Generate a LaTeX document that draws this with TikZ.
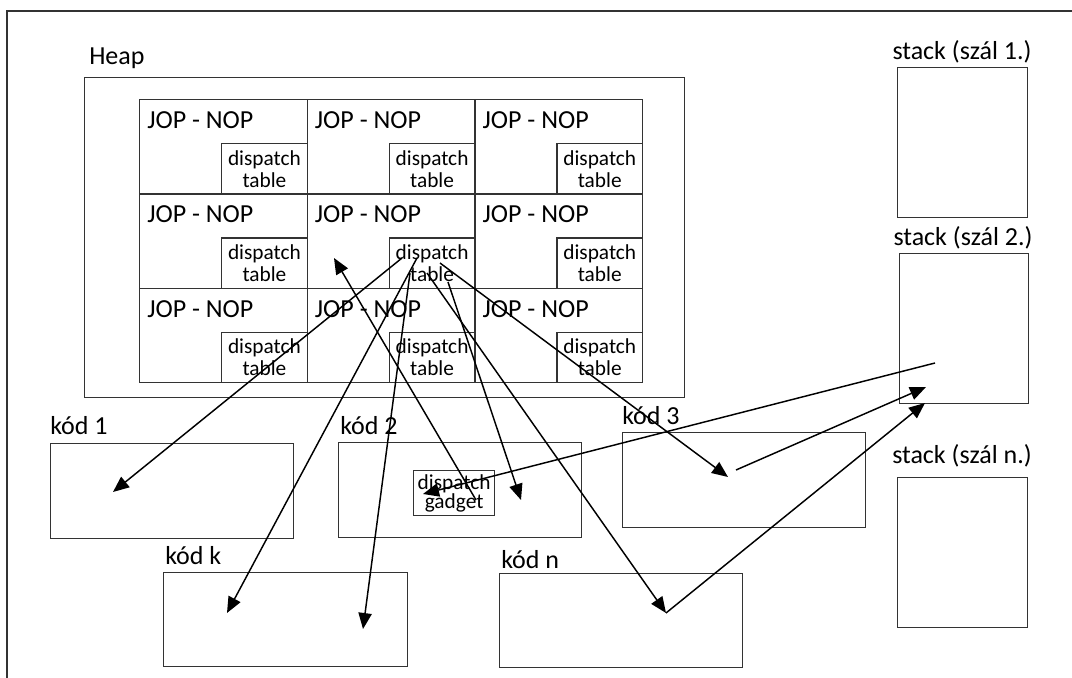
\documentclass[tikz,border=0pt]{standalone}
\usepackage{fontspec}
\setmainfont{Carlito}
\usetikzlibrary{arrows.meta}
\begin{document}
\begin{tikzpicture}[x=0.75pt,y=-0.75pt,
  rbox/.style 2 args={draw=black!80, line width=0.9pt, inner sep=0pt, anchor=north west,
    minimum width=#1*0.75pt, minimum height=#2*0.75pt},
  big/.style={font=\fontsize{19.5}{23}\selectfont, inner sep=0pt},
  small/.style={font=\fontsize{16}{16.5}\selectfont, align=center},
  arr/.style={line width=1.1pt, -{Triangle[length=12pt,width=10pt]}},
  plainline/.style={line width=1.1pt}]
\useasboundingbox (0,0) rectangle (1072,678);
\fill[white] (0,0) rectangle (1072,678);
% outer frame (cut off at right and bottom)
\draw[black!80, line width=0.9pt] (1072,11) -- (7,11) -- (7,678);

% heap
\node[big, anchor=base west] (heapl) at (89,64) {Heap};
\node[rbox={600}{320}] (heap) at (84,77) {};
\foreach \i in {0,1,2}{\foreach \j in {0,1,2}{
  \pgfmathsetmacro\cx{139+167.67*\i}
  \pgfmathsetmacro\cy{99+94.33*\j}
  \node[rbox={167.67}{94.33}] (c\i\j) at (\cx,\cy) {};
  \node[big, anchor=base west] (l\i\j) at (\cx+8,\cy+29.5) {JOP - NOP};
  \node[rbox={85.7}{50.3}, anchor=south east, small] (d\i\j) at (c\i\j.south east) {dispatch\\table};
}}

% code blocks
\node[big, anchor=base west] (k1l) at (50,434) {kód 1};
\node[rbox={243}{95}] (k1) at (50,443) {};
\node[big, anchor=base west] (k2l) at (340,434) {kód 2};
\node[rbox={243}{95}] (k2) at (338,442) {};
\node[rbox={81}{45}, small, font=\fontsize{16}{14.5}\selectfont] (gad) at (413,470) {dispatch\\gadget};
\node[big, anchor=base west] (k3l) at (622,424) {kód 3};
\node[rbox={243}{95}] (k3) at (622,432) {};
\node[big, anchor=base west] (kkl) at (165,564) {kód k};
\node[rbox={244}{94}] (kk) at (163,572) {};
\node[big, anchor=base west] (knl) at (501,568) {kód n};
\node[rbox={243}{94}] (kn) at (499,573) {};

% stacks
\node[big, anchor=base] (s1l) at (962,60) {stack (szál 1.)};
\node[rbox={130}{150}] (s1) at (897,67) {};
\node[big, anchor=base] (s2l) at (963,245) {stack (szál 2.)};
\node[rbox={129}{150}] (s2) at (899,253) {};
\node[big, anchor=base] (snl) at (962,463) {stack (szál n.)};
\node[rbox={130}{150}] (sn) at (897,477) {};

% connector end points
\coordinate (dA) at (402,258);
\coordinate (dB) at (417,258);
\coordinate (dC) at (410,273);
\coordinate (dD) at (448,282);
\coordinate (dE) at (427,273);
\coordinate (dF) at (440,263);
\coordinate (cellpt) at (334,258);
\coordinate (k1pt) at (113,492);
\coordinate (kkpt1) at (227,613);
\coordinate (kkpt2) at (363,629);
\coordinate (k2pt) at (521,500);
\coordinate (knpt) at (666,613);
\coordinate (k3in) at (728,477);
\coordinate (k3out) at (736,470);
\coordinate (gadout) at (476,500);
\coordinate (gadin) at (423,494);
\coordinate (s2out) at (935,363);
\coordinate (s2in1) at (926,387);
\coordinate (s2in2) at (925,403);

% connectors
\draw[arr] (dA) -- (k1pt);
\draw[arr] (dB) -- (kkpt1);
\draw[arr] (dC) -- (kkpt2);
\draw[arr] (dD) -- (k2pt);
\draw[arr] (dE) -- (knpt);
\draw[arr] (dF) -- (k3in);
\draw[arr] (gadout) -- (cellpt);
\draw[arr] (s2out) -- (gadin);
\draw[arr] (k3out) -- (s2in1);
\draw[arr] (knpt) -- (s2in2);
\end{tikzpicture}
\end{document}
